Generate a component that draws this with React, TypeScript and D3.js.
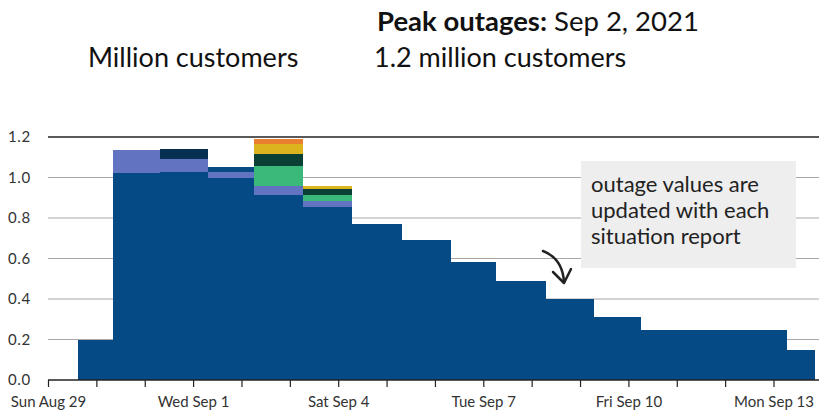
import React from "react";
import * as d3 from "d3";

const reportTimes = [
  "2021-08-29T14:40Z", "2021-08-30T08:10Z", "2021-08-31T07:25Z", "2021-09-01T07:10Z",
  "2021-09-02T06:00Z", "2021-09-03T06:30Z", "2021-09-04T06:30Z", "2021-09-05T07:10Z",
  "2021-09-06T07:55Z", "2021-09-07T06:00Z", "2021-09-08T07:00Z", "2021-09-09T06:45Z",
  "2021-09-10T06:15Z", "2021-09-13T06:30Z",
];
const endTime = "2021-09-13T20:25Z";

const seriesMain = [0.2, 1.024, 1.028, 1.0, 0.912, 0.854, 0.772, 0.693, 0.584, 0.489, 0.398, 0.31, 0.248, 0.15];
const seriesPurple = [0, 0.112, 0.063, 0.027, 0.048, 0.03, 0, 0, 0, 0, 0, 0, 0, 0];
const seriesBlue2 = [0, 0, 0, 0.027, 0, 0, 0, 0, 0, 0, 0, 0, 0, 0];
const seriesNavy = [0, 0, 0.05, 0, 0, 0, 0, 0, 0, 0, 0, 0, 0, 0];
const seriesGreen = [0, 0, 0, 0, 0.097, 0.03, 0, 0, 0, 0, 0, 0, 0, 0];
const seriesDarkGreen = [0, 0, 0, 0, 0.059, 0.029, 0, 0, 0, 0, 0, 0, 0, 0];
const seriesYellow = [0, 0, 0, 0, 0.049, 0.015, 0, 0, 0, 0, 0, 0, 0, 0];
const seriesOrange = [0, 0, 0, 0, 0.025, 0, 0, 0, 0, 0, 0, 0, 0, 0];

const seriesList = [
  { key: "main", values: seriesMain, color: "#054a84" },
  { key: "purple", values: seriesPurple, color: "#6273c1" },
  { key: "blue2", values: seriesBlue2, color: "#084a82" },
  { key: "navy", values: seriesNavy, color: "#06304f" },
  { key: "green", values: seriesGreen, color: "#3bb97a" },
  { key: "darkgreen", values: seriesDarkGreen, color: "#0b4037" },
  { key: "yellow", values: seriesYellow, color: "#dcb41e" },
  { key: "orange", values: seriesOrange, color: "#e8802f" },
];

const yTicks = [0, 0.2, 0.4, 0.6, 0.8, 1.0, 1.2];
const xTickStart = "2021-08-29T00:00Z";
const xTickEnd = "2021-09-13T00:00Z";
const annotationLines = ["outage values are", "updated with each", "situation report"];

const FONT = "Lato, 'Noto Sans', sans-serif";

export default function App() {
  const W = 819, H = 413;
  const x = d3.scaleUtc().domain([new Date(xTickStart), new Date(xTickEnd)]).range([48.5, 774]);
  const y = d3.scaleLinear().domain([0, 1.2]).range([380, 137]);

  const times = reportTimes.map((t) => new Date(t));
  const ends = [...times.slice(1), new Date(endTime)];

  const table = times.map((t, i) => {
    const row: any = { i };
    seriesList.forEach((s) => (row[s.key] = s.values[i]));
    return row;
  });
  const stacked = d3.stack().keys(seriesList.map((s) => s.key))(table);

  const ticks = d3.utcDay.range(new Date(xTickStart), d3.utcDay.offset(new Date(xTickEnd), 1));
  const labelTicks = ticks.filter((_, i) => i % 3 === 0);
  const fmt = d3.utcFormat("%a %b %-d");

  return (
    <svg width={W} height={H} style={{ position: "absolute", left: 0, top: 0 }} fontFamily={FONT}>
      <text x={377} y={31} fontSize={27.5} fill="#111">
        <tspan fontWeight={700}>Peak outages:</tspan>
        <tspan> Sep 2, 2021</tspan>
      </text>
      <text x={88} y={67} fontSize={27} fill="#111">Million customers</text>
      <text x={374} y={67} fontSize={27} fill="#111">1.2 million customers</text>

      {yTicks.map((v) => (
        <g key={v}>
          {v > 0 && (
            <line x1={48} x2={W} y1={y(v)} y2={y(v)} stroke={v === 1.2 ? "#222" : "#a8a8a8"} strokeWidth={v === 1.2 ? 1.5 : 1.2} />
          )}
          <text x={8} y={y(v)} dy="0.35em" fontSize={15} fill="#333" letterSpacing={0.6}>{v.toFixed(1)}</text>
        </g>
      ))}

      {stacked.map((layer, li) => (
        <g key={layer.key} fill={seriesList[li].color} shapeRendering="crispEdges">
          {layer.map((d, i) => {
            if (d[1] - d[0] <= 0) return null;
            const x0 = Math.round(x(times[i]));
            const x1 = Math.round(x(ends[i]));
            return (
              <rect key={i} x={x0} width={x1 - x0} y={y(d[1])} height={y(d[0]) - y(d[1])} />
            );
          })}
        </g>
      ))}

      <line x1={48} x2={W} y1={380} y2={380} stroke="#222" strokeWidth={1.5} />
      {ticks.map((t, i) => (
        <line key={i} x1={x(t)} x2={x(t)} y1={380} y2={387} stroke="#222" strokeWidth={1.2} />
      ))}
      {labelTicks.map((t, i) => (
        <text key={i} x={x(t)} y={407} textAnchor="middle" fontSize={15} fill="#333">{fmt(t)}</text>
      ))}

      <rect x={581} y={161} width={215} height={107} fill="#eeeeee" />
      {annotationLines.map((l, i) => (
        <text key={i} x={591} y={192 + i * 26} fontSize={22} fill="#222">{l}</text>
      ))}
      <path d="M543,251 C556,256 563,266 564,282" fill="none" stroke="#222" strokeWidth={2.5} strokeLinecap="round" />
      <path d="M553,272 L564,283 L571,269" fill="none" stroke="#222" strokeWidth={2.5} strokeLinecap="round" strokeLinejoin="round" />
    </svg>
  );
}
